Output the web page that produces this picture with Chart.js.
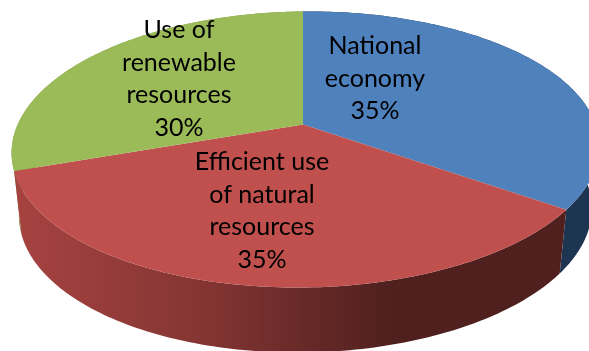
<!DOCTYPE html>
<html>
<head>
<meta charset="utf-8">
<style>
    html, body { margin: 0; padding: 0; background: #fff; overflow: hidden; }
    canvas { display: block; }
</style>
<script src="https://cdn.jsdelivr.net/npm/chart.js@4"></script>
</head>
<body>
<canvas id="myChart" width="589" height="351"></canvas>
<script>
const labels = ['National economy', 'Efficient use of natural resources', 'Use of renewable resources'];
const values = [35, 35, 30];
const labelLines = [
    ['National', 'economy', '35%'],
    ['Efficient use', 'of natural', 'resources', '35%'],
    ['Use of', 'renewable', 'resources', '30%']
];
const colors = ['#4f81bd', '#c0504d', '#9bbb59'];

// where each label block is centred, first line
const labelX = [375, 262, 179];
const labelY = [46, 162, 30];
const lineGap = 32.6;

// perspective of the tilted disc
const cx = 303, cy = 124.5;
const rx = 289, ry = 133.5, persp = 0.181;
const tilt = -0.01, sideShift = 2.5;
const depth = 62, frontSag = 3, baseShrink = 0.975;

function topPoint(t) {
    const u = Math.cos(t), v = Math.sin(t);
    const w = 1 - persp * v;
    const x = rx * u / w;
    return [cx + x + sideShift * u * u, cy + ry * v / w + tilt * x];
}

function basePoint(t) {
    const p = topPoint(t);
    return [cx + (p[0] - cx) * baseShrink, p[1] + depth + frontSag * Math.max(Math.sin(t), 0)];
}

function arcPoints(fn, a, b) {
    const pts = [];
    const steps = 120;
    for (let i = 0; i <= steps; i++) {
        pts.push(fn(a + (b - a) * i / steps));
    }
    return pts;
}

function fillPoints(ctx, pts, fill) {
    ctx.beginPath();
    pts.forEach((p, i) => i ? ctx.lineTo(p[0], p[1]) : ctx.moveTo(p[0], p[1]));
    ctx.closePath();
    ctx.fillStyle = fill;
    ctx.fill();
}

const disc3d = {
    id: 'disc3d',
    beforeDatasetsDraw(chart) {
        const ctx = chart.ctx;
        const arcs = chart.getDatasetMeta(0).data;

        // side walls, red is in front so it goes last
        const redWall = ctx.createLinearGradient(15, 0, 392, 0);
        redWall.addColorStop(0, '#a64341');
        redWall.addColorStop(0.5, '#843533');
        redWall.addColorStop(1, '#4f201e');
        const wallFill = ['#1e3552', redWall, '#7f9a48'];
        [2, 0, 1].forEach(i => {
            const a = arcs[i];
            const top = arcPoints(topPoint, a.startAngle, a.endAngle);
            const base = arcPoints(basePoint, a.startAngle, a.endAngle).reverse();
            fillPoints(ctx, top.concat(base), wallFill[i]);
        });

        // top faces
        arcs.forEach((a, i) => {
            const pts = [[cx, cy]].concat(arcPoints(topPoint, a.startAngle, a.endAngle));
            fillPoints(ctx, pts, a.options.backgroundColor);
        });
        return false;
    },
    afterDraw(chart) {
        const ctx = chart.ctx;
        ctx.font = '25px Lato';
        ctx.fillStyle = '#000';
        ctx.textAlign = 'center';
        ctx.textBaseline = 'middle';
        labelLines.forEach((lines, i) => {
            lines.forEach((line, j) => {
                ctx.fillText(line, labelX[i], labelY[i] + j * lineGap);
            });
        });
    }
};

const myChart = new Chart(document.getElementById('myChart'), {
    type: 'pie',
    data: {
        labels: labels,
        datasets: [{
            data: values,
            backgroundColor: colors,
            borderWidth: 0
        }]
    },
    options: {
        responsive: false,
        animation: false,
        plugins: {
            legend: { display: false },
            tooltip: { enabled: false }
        }
    },
    plugins: [disc3d]
});
</script>
</body>
</html>
